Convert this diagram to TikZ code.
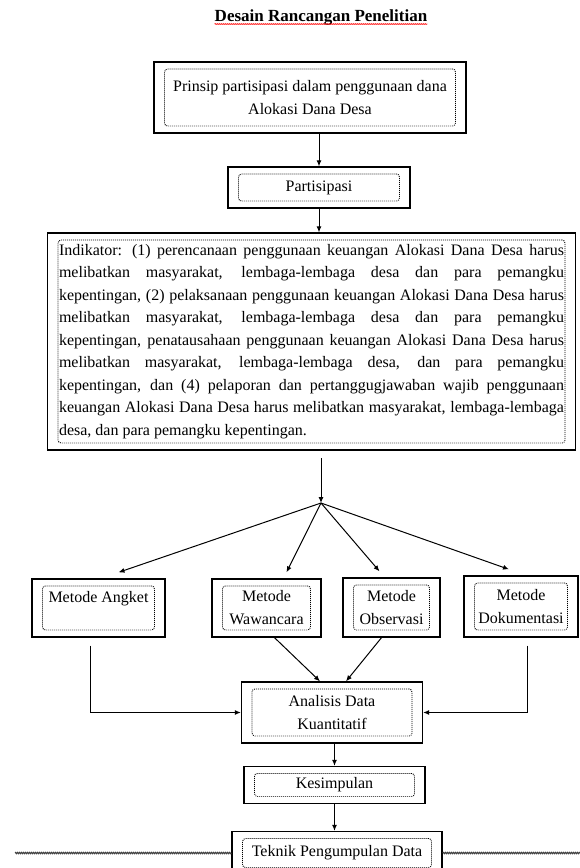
\documentclass[tikz,border=0pt]{standalone}
\usepackage{fontspec}
\setmainfont{Liberation Serif}
\usetikzlibrary{arrows.meta, fit, decorations.pathmorphing}

\begin{document}
\begin{tikzpicture}[x=1pt, y=-1pt,
    isi/.style={draw, line width=0.9pt, dash pattern=on 0.9pt off 1.1pt,
        rounded corners=3pt, align=center, inner sep=1pt,
        font=\fontsize{16}{23}\selectfont},
    bingkai/.style={draw, line width=1.4pt, inner xsep=10pt, inner ysep=6.5pt},
    panah/.style={-{Latex[length=6pt, width=5pt]}, line width=1pt},
    gelombang/.style={draw=black!75, line width=1pt, decorate,
        decoration={snake, amplitude=0.7pt, segment length=2pt}}]

    \clip (0,0) rectangle (580,868);

    % Judul
    \node[font=\fontsize{17}{20}\selectfont\bfseries, inner sep=0pt] (judul) at (321,17)
        {Desain Rancangan Penelitian};
    \draw[red, line width=0.6pt, decorate,
        decoration={snake, amplitude=0.5pt, segment length=2pt}]
        ([yshift=-3pt]judul.base west) -- ([yshift=-3pt]judul.base east);

    % Kotak atas
    \node[isi, minimum width=291pt, minimum height=57pt] (prinsip-isi) at (310,97.5)
        {Prinsip partisipasi dalam penggunaan dana\\Alokasi Dana Desa};
    \node[bingkai, fit=(prinsip-isi)] (prinsip) {};

    \node[isi, minimum width=161pt, minimum height=27pt] (partisipasi-isi) at (319,187.5)
        {Partisipasi};
    \node[bingkai, fit=(partisipasi-isi)] (partisipasi) {};

    % Indikator
    \node[isi, align=justify, text width=505pt, minimum height=203pt,
        font=\fontsize{16}{22.5}\selectfont] (indikator-isi) at (311.5,341.5)
        {\noindent\tolerance=10000\hbadness=10000
        Indikator: (1) perencanaan penggunaan keuangan Alokasi Dana Desa harus\linebreak
        melibatkan masyarakat, lembaga-lembaga desa dan para pemangku\linebreak
        kepentingan, (2) pelaksanaan penggunaan keuangan Alokasi Dana Desa harus\linebreak
        melibatkan masyarakat, lembaga-lembaga desa dan para pemangku\linebreak
        kepentingan, penatausahaan penggunaan keuangan Alokasi Dana Desa harus\linebreak
        melibatkan masyarakat, lembaga-lembaga desa, dan para pemangku\linebreak
        kepentingan, dan (4) pelaporan dan pertanggugjawaban wajib penggunaan\linebreak
        keuangan Alokasi Dana Desa harus melibatkan masyarakat, lembaga-lembaga\linebreak
        desa, dan para pemangku kepentingan.};
    \node[bingkai, fit=(indikator-isi)] (indikator) {};

    % Metode
    \node[isi, minimum width=112pt, minimum height=44pt] (angket-isi) at (98.5,608)
        {Metode Angket\\\mbox{}};
    \node[bingkai, fit=(angket-isi)] (angket) {};

    \node[isi, minimum width=88pt, minimum height=44pt] (wawancara-isi) at (266.5,608)
        {Metode\\Wawancara};
    \node[bingkai, fit=(wawancara-isi)] (wawancara) {};

    \node[isi, minimum width=76pt, minimum height=45pt] (observasi-isi) at (391.5,607.5)
        {Metode\\Observasi};
    \node[bingkai, fit=(observasi-isi)] (observasi) {};

    \node[isi, minimum width=93pt, minimum height=47pt] (dokumentasi-isi) at (521,606.5)
        {Metode\\Dokumentasi};
    \node[bingkai, fit=(dokumentasi-isi)] (dokumentasi) {};

    % Kotak bawah
    \node[isi, minimum width=160pt, minimum height=47pt] (analisis-isi) at (332,712.5)
        {Analisis Data\\Kuantitatif};
    \node[bingkai, fit=(analisis-isi)] (analisis) {};

    \node[isi, minimum width=160pt, minimum height=23pt] (kesimpulan-isi) at (334.5,785)
        {Kesimpulan};
    \node[bingkai, fit=(kesimpulan-isi)] (kesimpulan) {};

    \node[isi, minimum width=189pt, minimum height=29pt] (teknik-isi) at (337,853)
        {Teknik Pengumpulan Data};
    \node[bingkai, fit=(teknik-isi)] (teknik) {};

    % Panah
    \coordinate (pangkal) at (321,458);
    \coordinate (cabang) at (321,503);
    \coordinate (ujung-kiri) at (15,853);
    \coordinate (ujung-kanan) at (580,853);

    \draw[panah] (prinsip.south -| partisipasi) -- (partisipasi);
    \draw[panah] (partisipasi) -- (partisipasi |- indikator.north);
    \draw[panah] (pangkal) -- (cabang);

    \draw[panah] (cabang) -- ([xshift=20pt, yshift=6pt]angket.north);
    \draw[panah] (cabang) -- ([xshift=20pt, yshift=6pt]wawancara.north);
    \draw[panah] (cabang) -- ([xshift=-12pt, yshift=6pt]observasi.north);
    \draw[panah] (cabang) -- ([xshift=-12pt, yshift=6pt]dokumentasi.north);

    \draw[panah] ([xshift=8pt]wawancara.south) -- ([xshift=-12pt]analisis.north);
    \draw[panah] ([xshift=-10pt]observasi.south) -- ([xshift=14pt]analisis.north);
    \draw[panah] ([xshift=-8pt, yshift=-8pt]angket.south) |- (analisis.west);
    \draw[panah] ([xshift=6pt, yshift=-8pt]dokumentasi.south) |- (analisis.east);

    \draw[panah] (analisis.south -| kesimpulan) -- (kesimpulan);
    \draw[panah] (kesimpulan) -- (kesimpulan |- teknik.north);

    % Garis bergelombang
    \draw[gelombang] (teknik.west) -- (ujung-kiri);
    \draw[gelombang] (teknik.east) -- (ujung-kanan);

\end{tikzpicture}
\end{document}
